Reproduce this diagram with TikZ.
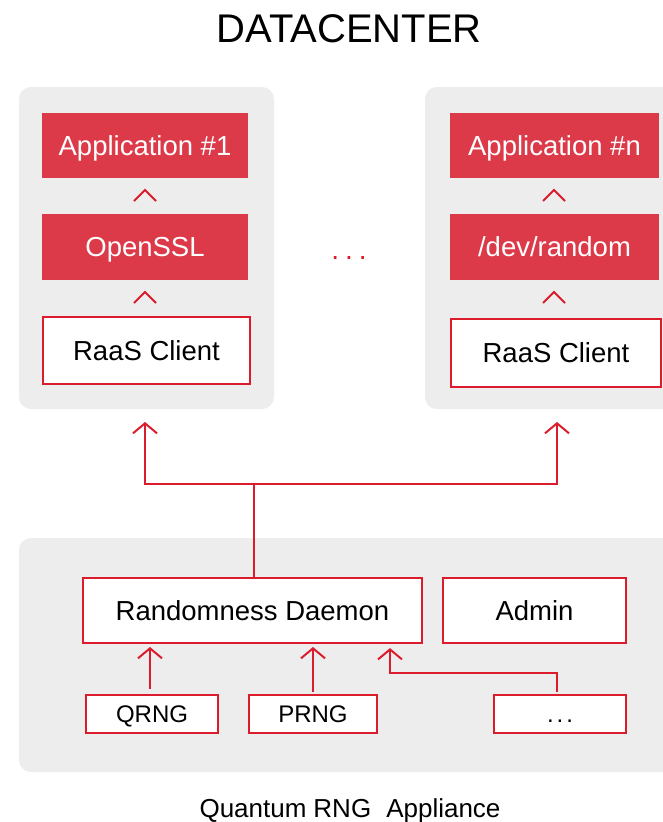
\documentclass[tikz,border=0pt]{standalone}
\usepackage{fontspec}
\setmainfont{Liberation Sans}
\usetikzlibrary{arrows.meta}
\definecolor{panelgray}{RGB}{237,237,237}
\definecolor{boxred}{RGB}{220,57,73}
\definecolor{linered}{RGB}{218,28,44}
\tikzset{
  capcenter/.style={text height=#1, text depth=0pt, inner sep=0pt},
  panel/.style={fill=panelgray, draw=none, rounded corners=12pt},
  redbox/.style={capcenter=19.7pt, fill=boxred, draw=none, text=white,
    font=\fontsize{27.5}{32}\selectfont},
  whitebox/.style={capcenter=19.7pt, fill=white, draw=linered, line width=2.2pt, text=black,
    font=\fontsize{27.5}{32}\selectfont},
  smallbox/.style={whitebox, capcenter=17.2pt, font=\fontsize{24}{28}\selectfont},
  conn/.style={draw=linered, line width=2pt},
  arr/.style={conn, -{Straight Barb[length=10pt, width=24pt, line width=2pt]}},
  caret/.pic={\draw[conn, line width=2pt] (-11,11) -- (0,0) -- (11,11);}
}
\begin{document}
\begin{tikzpicture}[x=1pt, y=-1pt]
\useasboundingbox (0,0) rectangle (663,822);
\clip (0,0) rectangle (663,822);
\fill[white] (0,0) rectangle (663,822);

% panels
\path[panel] (19,87) rectangle (274,409);
\path[panel] (425,87) rectangle (700,409);
\path[panel] (19,538) rectangle (700,772);

% titles
\node[capcenter=28.6pt, font=\fontsize{40}{46}\selectfont] (title) at (349,28.5) {DATACENTER};
\node[capcenter=18.6pt, font=\fontsize{26}{30}\selectfont] (foot) at (350,808.5)
  {Quantum\hspace{7pt}RNG\hspace{15pt}Appliance};
\node[capcenter=20pt, text=linered, font=\fontsize{28}{32}\selectfont] (gap) at (349,249)
  {.\hspace{6pt}.\hspace{6pt}.};

% datacenter, first host
\node[redbox, minimum width=206pt, minimum height=65pt] (app1) at (145,145.5) {Application \#1};
\node[redbox, minimum width=206pt, minimum height=66pt] (ssl) at (145,247) {OpenSSL};
\node[whitebox, minimum width=207pt, minimum height=67pt] (rc1) at (146.5,350.5) {RaaS Client};

% datacenter, n-th host
\node[redbox, minimum width=209pt, minimum height=65pt] (appn) at (554.5,145.5) {Application \#n};
\node[redbox, minimum width=209pt, minimum height=66pt] (dev) at (554.5,247) {/dev/random};
\node[whitebox, minimum width=210pt, minimum height=68pt] (rcn) at (556,353) {RaaS Client};

% carets between the stacked layers
\pic at (145,190) {caret};
\pic at (145,292) {caret};
\pic at (554,190) {caret};
\pic at (554,292) {caret};

% appliance
\node[whitebox, minimum width=339pt, minimum height=65pt] (daemon) at (252.5,610.5) {Randomness Daemon};
\node[whitebox, minimum width=183pt, minimum height=65pt] (admin) at (534.5,610.5) {Admin};
\node[smallbox, minimum width=132pt, minimum height=38pt] (qrng) at (152,714) {QRNG};
\node[smallbox, minimum width=128pt, minimum height=38pt] (prng) at (313,714) {PRNG};
\node[smallbox, minimum width=132pt, minimum height=38pt] (more) at (560,714) {.\hspace{3pt}.\hspace{3pt}.};

% distribution to the hosts
\coordinate (tipL) at (145,422);
\coordinate (tipR) at (557,422);
\coordinate (hub) at (254,484);
\draw[conn] (daemon.north -| hub) -- (hub);
\draw[arr] (hub) -| (tipL);
\draw[arr] (hub) -| (tipR);

% entropy sources
\draw[arr, shorten >=4pt] (qrng.north -| 150,0) ++(0,-5) -- (150,643);
\draw[arr, shorten >=4pt] (prng.north -| 313,0) ++(0,-2) -- (313,643);
\coordinate (bend) at (390,673);
\draw[arr, shorten >=4pt] (more.north -| 557,0) ++(0,-2) |- (bend) -- (bend |- daemon.south);
\end{tikzpicture}
\end{document}
